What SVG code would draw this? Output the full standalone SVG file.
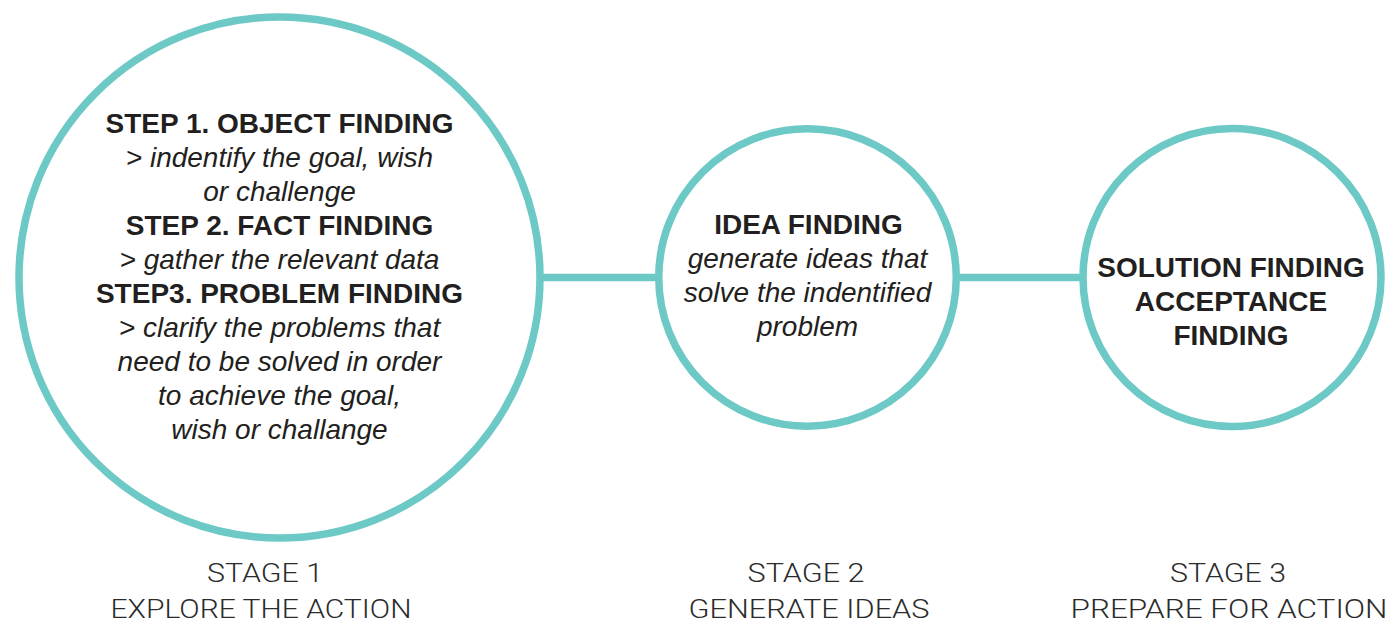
<svg xmlns="http://www.w3.org/2000/svg" width="1392" height="624" viewBox="0 0 1392 624">
  <style>
    .ring { fill: #ffffff; stroke: #6dc9c6; stroke-width: 7.5; }
    .link { stroke: #6dc9c6; stroke-width: 7.5; fill: none; }
    .t { font-family: "Liberation Sans", Arial, Helvetica, sans-serif; font-size: 28px; fill: #231f20; text-anchor: middle; }
    .b { font-weight: bold; }
    .i { font-style: italic; }
    .stage { font-family: Roboto, "Liberation Sans", Arial, sans-serif; font-weight: 300; font-size: 26px; fill: #2b2b2b; text-anchor: middle; }
  </style>
  <rect width="1392" height="624" fill="#ffffff"/>

  <!-- connectors between the stage circles -->
  <g id="connectors">
    <line class="link" x1="540" y1="277.5" x2="658.75" y2="277.5"/>
    <line class="link" x1="956.25" y1="277.5" x2="1083" y2="277.5"/>
  </g>

  <!-- stage 1: explore the action -->
  <g id="stage1">
    <circle class="ring" cx="279.5" cy="277.5" r="260.5"/>
    <text class="t b" x="279.5" y="133">STEP 1. OBJECT FINDING</text>
    <text class="t i" x="279.5" y="167">&gt; indentify the goal, wish</text>
    <text class="t i" x="279.5" y="201">or challenge</text>
    <text class="t b" x="279.5" y="235">STEP 2. FACT FINDING</text>
    <text class="t i" x="279.5" y="269">&gt; gather the relevant data</text>
    <text class="t b" x="279.5" y="303">STEP3. PROBLEM FINDING</text>
    <text class="t i" x="279.5" y="337">&gt; clarify the problems that</text>
    <text class="t i" x="279.5" y="371">need to be solved in order</text>
    <text class="t i" x="279.5" y="405">to achieve the goal,</text>
    <text class="t i" x="279.5" y="439">wish or challange</text>
    <text class="stage" x="265" y="582" textLength="116" lengthAdjust="spacingAndGlyphs">STAGE 1</text>
    <text class="stage" x="261" y="618" textLength="301" lengthAdjust="spacingAndGlyphs">EXPLORE THE ACTION</text>
  </g>

  <!-- stage 2: generate ideas -->
  <g id="stage2">
    <circle class="ring" cx="807.5" cy="277.5" r="148.75"/>
    <text class="t b" x="808.5" y="234">IDEA FINDING</text>
    <text class="t i" x="807.5" y="268">generate ideas that</text>
    <text class="t i" x="807.5" y="302">solve the indentified</text>
    <text class="t i" x="807.5" y="336">problem</text>
    <text class="stage" x="806" y="582" textLength="117" lengthAdjust="spacingAndGlyphs">STAGE 2</text>
    <text class="stage" x="809" y="618" textLength="241" lengthAdjust="spacingAndGlyphs">GENERATE IDEAS</text>
  </g>

  <!-- stage 3: prepare for action -->
  <g id="stage3">
    <circle class="ring" cx="1232" cy="277.5" r="149"/>
    <text class="t b" x="1231" y="277">SOLUTION FINDING</text>
    <text class="t b" x="1231" y="311">ACCEPTANCE</text>
    <text class="t b" x="1231" y="345">FINDING</text>
    <text class="stage" x="1228" y="582" textLength="116" lengthAdjust="spacingAndGlyphs">STAGE 3</text>
    <text class="stage" x="1229" y="618" textLength="317" lengthAdjust="spacingAndGlyphs">PREPARE FOR ACTION</text>
  </g>
</svg>
